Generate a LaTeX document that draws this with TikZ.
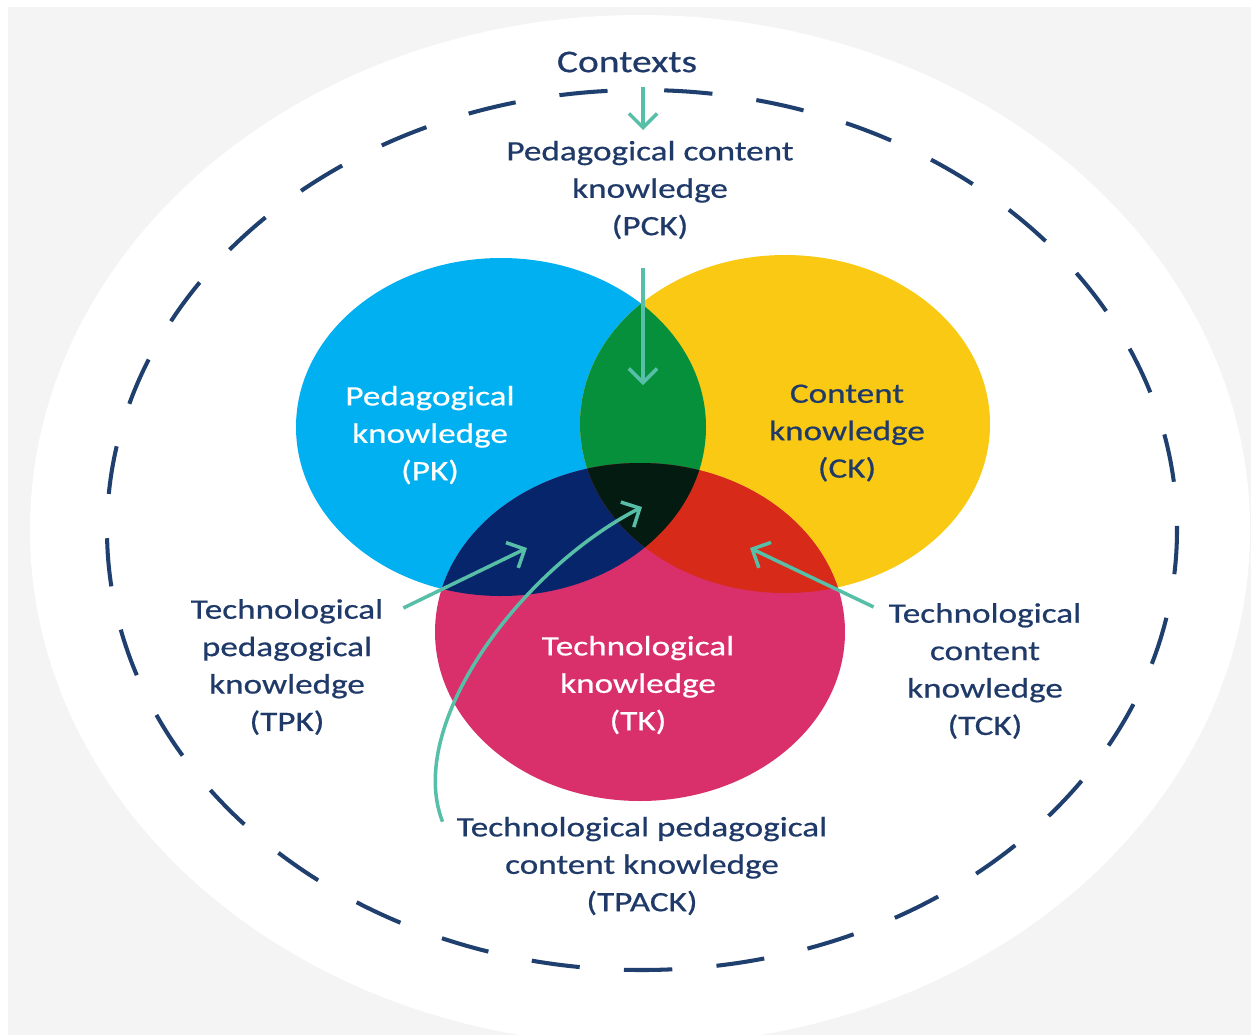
\documentclass[tikz,border=0pt]{standalone}
\usepackage{xcolor}
\usepackage{fontspec}
\setmainfont{Carlito}[FakeStretch=1.25, FakeBold=0.6]
\usepackage{tikz}
\usetikzlibrary{arrows.meta}

\definecolor{bggray}{HTML}{F4F4F4}
\definecolor{ringblue}{HTML}{1F3F6E}
\definecolor{textnavy}{HTML}{1F3A68}
\definecolor{arrowteal}{HTML}{57BFA8}
\definecolor{pkblue}{HTML}{00B0F0}
\definecolor{ckyellow}{HTML}{F9C914}
\definecolor{tkpink}{HTML}{D9306B}
\definecolor{pckgreen}{HTML}{07903C}
\definecolor{tpknavy}{HTML}{06256A}
\definecolor{tckred}{HTML}{D72A18}
\definecolor{tpackdark}{HTML}{031B10}

\begin{document}
\begin{tikzpicture}[x=0.02cm, y=-0.02cm,
    outtext/.style={align=center, text=textnavy, font=\fontsize{16}{21.3}\selectfont},
    intext/.style={outtext, text=white},
    venn/.style={x radius=205, y radius=169},
    arr/.style={draw=arrowteal, line width=2pt, -{Straight Barb[length=8pt,width=16pt]}}]
    \useasboundingbox (0,0) rectangle (1251,1035);
    \fill[bggray] (8,7) rectangle (1251,1035);
    \fill[white] (640,530) ellipse [x radius=610, y radius=515];

    \draw[ringblue, line width=2.3pt, dash pattern=on 27.5pt off 25.25pt, dash phase=40.1pt]
    (642,90) arc [start angle=-90, end angle=270, x radius=535, y radius=440];

    \coordinate (pkc) at (501,427);
    \coordinate (ckc) at (785,424);
    \coordinate (tkc) at (640,632);

    \fill[pkblue] (pkc) ellipse [venn];
    \fill[ckyellow] (ckc) ellipse [venn];
    \fill[tkpink] (tkc) ellipse [venn];
    \begin{scope}
        \clip (pkc) ellipse [venn];
        \fill[pckgreen] (ckc) ellipse [venn];
        \fill[tpknavy] (tkc) ellipse [venn];
    \end{scope}
    \begin{scope}
        \clip (ckc) ellipse [venn];
        \fill[tckred] (tkc) ellipse [venn];
    \end{scope}
    \begin{scope}
        \clip (pkc) ellipse [venn];
        \clip (ckc) ellipse [venn];
        \fill[tpackdark] (tkc) ellipse [venn];
    \end{scope}

    \node[outtext, font=\fontsize{18}{22}\selectfont](ctx) at (627,62){Contexts};
    \node[outtext](pck) at (650,190){Pedagogical content\\knowledge\\(PCK)};
    \node[intext](pk) at (430,435){Pedagogical\\knowledge\\(PK)};
    \node[outtext](ck) at (847,433){Content\\knowledge\\(CK)};
    \node[intext](tk) at (638,685){Technological\\knowledge\\(TK)};
    \node[outtext](tpk) at (287,667){Technological\\pedagogical\\knowledge\\(TPK)};
    \node[outtext](tck) at (985,671){Technological\\content\\knowledge\\(TCK)};
    \node[outtext](tpack) at (642,866){Technological pedagogical\\content knowledge\\(TPACK)};

    \coordinate (pcktop) at (643,130);
    \coordinate (pcklens) at (643,385);
    \coordinate (tpklens) at (527,548);
    \coordinate (tcklens) at (750,548);
    \coordinate (tpacklens) at (642,507);

    \draw[arr, shorten <=5pt] (ctx.south -| pcktop) -- (pcktop);
    \draw[arr, shorten <=13pt] (pck.south -| pcklens) -- (pcklens);
    \draw[arr] ([shift={(14,15)}]tpk.north east) -- (tpklens);
    \draw[arr] ([shift={(-9,10)}]tck.north west) -- (tcklens);
    \draw[arr] ([shift={(-8,11)}]tpack.north west) .. controls (405,725) and (520,570) .. (tpacklens);
\end{tikzpicture}
\end{document}
